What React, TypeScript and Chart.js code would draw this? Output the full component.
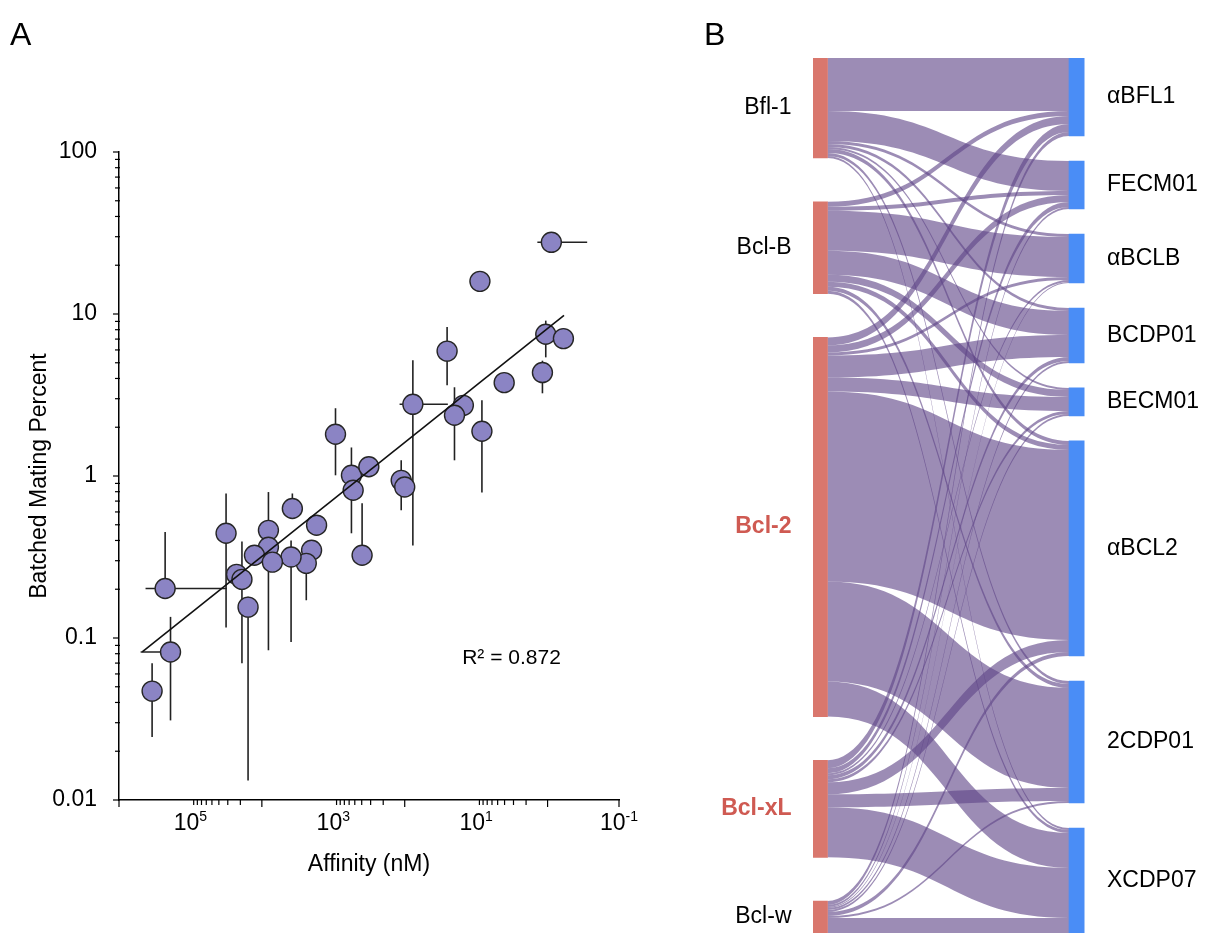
import React, { useEffect, useRef } from 'react';
import { Chart, registerables } from 'chart.js';

Chart.register(...registerables);

const FONT = '"Liberation Sans", Arial, Helvetica, sans-serif';

// ---------------- Panel A data ----------------
const affinityNM = [0.885, 8.85, 1.06, 0.6, 1.18, 4.05, 25.5, 76.9, 15.1, 20.1, 8.3, 931, 557, 527, 318, 395, 112, 100, 1714, 2014, 2388, 3741, 3899, 8090, 8090, 12700, 7120, 22600, 19000, 15600, 31700, 226000, 190000, 344000];
const matingPercent = [27.7, 15.9, 7.5, 7.05, 4.35, 3.77, 5.9, 2.77, 2.73, 2.37, 1.89, 1.81, 1.01, 0.817, 1.14, 0.324, 0.94, 0.855, 0.497, 0.348, 0.289, 0.63, 0.316, 0.462, 0.363, 0.324, 0.294, 0.247, 0.23, 0.155, 0.443, 0.202, 0.082, 0.047];
const matingLow = [null, null, 5.4, null, 3.24, null, 3.63, 0.373, null, 1.25, 0.79, 1.01, 0.443, null, null, 0.3, 0.614, null, null, null, 0.171, 0.55, 0.0944, 0.4, 0.084, null, null, null, 0.0698, 0.0132, 0.116, 0.18, 0.031, 0.0245];
const matingHigh = [null, null, 9.1, null, 5.15, null, 8.3, 5.18, null, 3.53, 2.93, 2.62, 1.5, null, null, 0.678, 1.25, null, null, null, 0.35, 0.78, 0.4, 0.796, 0.42, null, null, null, 0.394, 0.18, 0.78, 0.451, 0.135, 0.0698];
const affinityLow = [0.279, null, null, null, null, null, null, 24.9, null, null, null, null, null, null, null, null, null, null, null, null, null, null, null, null, null, null, null, null, null, null, null, 30900, 150000, null];
const affinityHigh = [1.39, null, null, null, null, null, null, 118, null, null, null, null, null, null, null, null, null, null, null, null, null, null, null, null, null, null, null, null, null, null, null, 425000, 498000, null];

const fitLineX = [473000, 0.589];
const fitLineY = [0.082, 9.8];
const rSquaredText = 'R² = 0.872';
const rSquaredAt = { x: 3.2, y: 0.075 };

const yTickValues = [0.01, 0.1, 1, 10, 100];
const yTickLabels = ['0.01', '0.1', '1', '10', '100'];
const yMinorDecades = [0.01, 0.1, 1, 10];
const xLabelValues = [1e5, 1e3, 1e1, 1e-1];
const xLabelExponents = ['5', '3', '1', '-1'];
const xMajorTickValues = [1e6, 1e4, 1e2, 1, 0.1];
const xMinorDecades = [1e4, 1e2, 1];
const minorMultipliers = [2, 3, 4, 5, 6, 7, 8, 9];

// ---------------- Panel B data ----------------
const sourceNames = ['Bfl-1', 'Bcl-B', 'Bcl-2', 'Bcl-xL', 'Bcl-w'];
const sourceHighlighted = [false, false, true, true, false];
const targetNames = ['αBFL1', 'FECM01', 'αBCLB', 'BCDP01', 'BECM01', 'αBCL2', '2CDP01', 'XCDP07'];
const flowsBfl1 = [53, 30, 3, 3, 2, 4, 3, 2];
const flowsBclB = [5, 4, 40, 24, 7, 5, 4, 3];
const flowsBcl2 = [8, 7, 3, 22, 14, 190, 100, 35];
const flowsBclXL = [8, 5, 2, 4, 3, 12, 13, 50];
const flowsBclW = [4, 2, 1, 2, 2, 4, 2, 15];

const SANKEY_SPAN = 874.7;

function buildSankey() {
  const flows = [flowsBfl1, flowsBclB, flowsBcl2, flowsBclXL, flowsBclW];
  const srcTot = flows.map((r) => r.reduce((a, b) => a + b, 0));
  const tgtTot = targetNames.map((_, j) => flows.reduce((s, r) => s + r[j], 0));
  const total = srcTot.reduce((a, b) => a + b, 0);
  const lg = (SANKEY_SPAN - total) / (sourceNames.length - 1);
  const rg = (SANKEY_SPAN - total) / (targetNames.length - 1);
  const srcY0: number[] = [];
  let acc = 0;
  srcTot.forEach((v) => { srcY0.push(acc); acc += v + lg; });
  const tgtY0: number[] = [];
  acc = 0;
  tgtTot.forEach((v) => { tgtY0.push(acc); acc += v + rg; });
  const sy = flows.map((r, i) => { let o = srcY0[i]; return r.map((v) => { const s = o; o += v; return s; }); });
  const ty = flows.map((r) => r.map(() => 0));
  for (let j = 0; j < targetNames.length; j++) {
    let o = tgtY0[j];
    for (let i = 0; i < flows.length; i++) { ty[i][j] = o; o += flows[i][j]; }
  }
  const links: { i: number; j: number; v: number; sy: number; ty: number }[] = [];
  flows.forEach((r, i) => r.forEach((v, j) => { if (v > 0) links.push({ i, j, v, sy: sy[i][j], ty: ty[i][j] }); }));
  return { srcTot, tgtTot, srcY0, tgtY0, links };
}

const panelAPlugin = {
  id: 'panelADecor',
  beforeDatasetsDraw(chart: any) {
    const { ctx } = chart;
    const x = chart.scales.x;
    const y = chart.scales.y;
    ctx.save();
    ctx.strokeStyle = '#222';
    ctx.lineWidth = 1.6;
    for (let i = 0; i < affinityNM.length; i++) {
      const px = x.getPixelForValue(affinityNM[i]);
      const py = y.getPixelForValue(matingPercent[i]);
      if (matingLow[i] != null && matingHigh[i] != null) {
        ctx.beginPath();
        ctx.moveTo(px, y.getPixelForValue(matingLow[i]));
        ctx.lineTo(px, y.getPixelForValue(matingHigh[i]));
        ctx.stroke();
      }
      if (affinityLow[i] != null && affinityHigh[i] != null) {
        ctx.beginPath();
        ctx.moveTo(x.getPixelForValue(affinityHigh[i]), py);
        ctx.lineTo(x.getPixelForValue(affinityLow[i]), py);
        ctx.stroke();
      }
    }
    ctx.restore();
  },
  afterDraw(chart: any) {
    const { ctx, chartArea } = chart;
    const x = chart.scales.x;
    const y = chart.scales.y;
    ctx.save();
    ctx.strokeStyle = '#000';
    ctx.lineWidth = 1.2;
    // y ticks
    const yl = chartArea.left;
    yTickValues.forEach((v) => {
      const p = y.getPixelForValue(v);
      ctx.beginPath(); ctx.moveTo(yl - 6, p); ctx.lineTo(yl, p); ctx.stroke();
    });
    yMinorDecades.forEach((d) => minorMultipliers.forEach((k) => {
      const p = y.getPixelForValue(k * d);
      ctx.beginPath(); ctx.moveTo(yl - 4, p); ctx.lineTo(yl + 1, p); ctx.stroke();
    }));
    // x ticks
    const xb = chartArea.bottom;
    xMajorTickValues.forEach((v) => {
      const p = x.getPixelForValue(v);
      ctx.beginPath(); ctx.moveTo(p, xb); ctx.lineTo(p, xb + 7); ctx.stroke();
    });
    xMinorDecades.forEach((d) => minorMultipliers.forEach((k) => {
      const p = x.getPixelForValue(k * d);
      ctx.beginPath(); ctx.moveTo(p, xb); ctx.lineTo(p, xb + 5); ctx.stroke();
    }));
    // x tick labels with superscripts
    ctx.fillStyle = '#000';
    ctx.textAlign = 'left';
    ctx.textBaseline = 'alphabetic';
    xLabelValues.forEach((v, i) => {
      const p = x.getPixelForValue(v);
      ctx.font = `23px ${FONT}`;
      const w10 = ctx.measureText('10').width;
      ctx.font = `14px ${FONT}`;
      const we = ctx.measureText(xLabelExponents[i]).width;
      const sx = p - (w10 + we) / 2;
      ctx.font = `23px ${FONT}`;
      ctx.fillText('10', sx, xb + 30);
      ctx.font = `14px ${FONT}`;
      ctx.fillText(xLabelExponents[i], sx + w10, xb + 21);
    });
    // R squared
    ctx.font = `21px ${FONT}`;
    ctx.textAlign = 'center';
    ctx.textBaseline = 'middle';
    ctx.fillText(rSquaredText, x.getPixelForValue(rSquaredAt.x), y.getPixelForValue(rSquaredAt.y));
    // panel letter
    ctx.font = `32px ${FONT}`;
    ctx.textAlign = 'left';
    ctx.textBaseline = 'alphabetic';
    ctx.fillText('A', 10, 45);
    ctx.restore();
  },
};

function makeSankeyPlugin(layout: ReturnType<typeof buildSankey>) {
  return {
    id: 'sankeyFlows',
    beforeDatasetsDraw(chart: any) {
      const { ctx } = chart;
      const yS = chart.scales.y;
      const sm = chart.getDatasetMeta(0).data;
      const tm = chart.getDatasetMeta(1).data;
      const xs = sm[0].x + sm[0].width / 2;
      const xt = tm[0].x - tm[0].width / 2;
      const xm = (xs + xt) / 2;
      ctx.save();
      ctx.fillStyle = 'rgba(95, 70, 135, 0.62)';
      layout.links.forEach((l) => {
        const ys0 = yS.getPixelForValue(l.sy);
        const ys1 = yS.getPixelForValue(l.sy + l.v);
        const yt0 = yS.getPixelForValue(l.ty);
        const yt1 = yS.getPixelForValue(l.ty + l.v);
        ctx.beginPath();
        ctx.moveTo(xs, ys0);
        ctx.bezierCurveTo(xm, ys0, xm, yt0, xt, yt0);
        ctx.lineTo(xt, yt1);
        ctx.bezierCurveTo(xm, yt1, xm, ys1, xs, ys1);
        ctx.closePath();
        ctx.fill();
      });
      ctx.restore();
    },
    afterDatasetsDraw(chart: any) {
      const { ctx } = chart;
      const yS = chart.scales.y;
      const sm = chart.getDatasetMeta(0).data;
      const tm = chart.getDatasetMeta(1).data;
      ctx.save();
      ctx.textBaseline = 'middle';
      ctx.textAlign = 'right';
      sourceNames.forEach((n, i) => {
        const yc = yS.getPixelForValue(layout.srcY0[i] + layout.srcTot[i] / 2);
        ctx.font = `${sourceHighlighted[i] ? 'bold ' : ''}23px ${FONT}`;
        ctx.fillStyle = sourceHighlighted[i] ? '#cf5a52' : '#000';
        ctx.fillText(n, sm[i].x - sm[i].width / 2 - 7, yc);
      });
      ctx.textAlign = 'left';
      ctx.fillStyle = '#000';
      ctx.font = `23px ${FONT}`;
      targetNames.forEach((n, j) => {
        const yc = yS.getPixelForValue(layout.tgtY0[j] + layout.tgtTot[j] / 2);
        ctx.fillText(n, tm[j].x + tm[j].width / 2 + 7, yc);
      });
      ctx.font = `32px ${FONT}`;
      ctx.textBaseline = 'alphabetic';
      ctx.fillText('B', 4, 45);
      ctx.restore();
    },
  };
}

export default function App() {
  const refA = useRef<HTMLCanvasElement>(null);
  const refB = useRef<HTMLCanvasElement>(null);

  useEffect(() => {
    const points = affinityNM.map((v, i) => ({ x: v, y: matingPercent[i] }));
    const fit = fitLineX.map((v, i) => ({ x: v, y: fitLineY[i] }));
    const chartA = new Chart(refA.current as HTMLCanvasElement, {
      type: 'scatter',
      data: {
        datasets: [
          { type: 'line', data: fit, borderColor: '#111', borderWidth: 1.6, pointRadius: 0, showLine: true, fill: false, order: 0 } as any,
          { type: 'scatter', data: points, pointRadius: 10, pointBackgroundColor: '#8b84c4', pointBorderColor: '#262626', pointBorderWidth: 1.4, order: 1 } as any,
        ],
      },
      options: {
        responsive: false,
        animation: false,
        events: [],
        layout: { padding: { left: 22, right: 81, top: 152, bottom: 52 } },
        scales: {
          x: {
            type: 'logarithmic', reverse: true, min: 0.1, max: 1e6,
            afterBuildTicks: (s: any) => { s.ticks = xLabelValues.map((v) => ({ value: v })); },
            afterFit: (s: any) => { s.height = 82; },
            grid: { display: false, drawTicks: false },
            border: { display: true, color: '#000', width: 1.5 },
            ticks: { display: false },
            title: { display: true, text: 'Affinity (nM)', font: { family: FONT, size: 23 }, color: '#000', padding: { top: 4, bottom: 4 } },
          },
          y: {
            type: 'logarithmic', min: 0.01, max: 100,
            afterBuildTicks: (s: any) => { s.ticks = yTickValues.map((v) => ({ value: v })); },
            afterFit: (s: any) => { s.width = 97; },
            grid: { display: false, drawTicks: false },
            border: { display: true, color: '#000', width: 1.5 },
            ticks: {
              autoSkip: false, padding: 22, color: '#000', font: { family: FONT, size: 23 },
              callback: (v: any) => { const k = yTickValues.indexOf(Number(v)); return k >= 0 ? yTickLabels[k] : ''; },
            },
            title: { display: true, text: 'Batched Mating Percent', font: { family: FONT, size: 23 }, color: '#000', padding: { top: 4, bottom: 4 } },
          },
        },
        plugins: { legend: { display: false }, tooltip: { enabled: false } },
      } as any,
      plugins: [panelAPlugin],
    });

    const layout = buildSankey();
    const chartB = new Chart(refB.current as HTMLCanvasElement, {
      type: 'bar',
      data: {
        datasets: [
          {
            data: layout.srcY0.map((y0, i) => ({ x: 0, y: [y0, y0 + layout.srcTot[i]] })),
            backgroundColor: '#d9776d', barThickness: 29, grouped: false, borderWidth: 0,
          } as any,
          {
            data: layout.tgtY0.map((y0, j) => ({ x: 1, y: [y0, y0 + layout.tgtTot[j]] })),
            backgroundColor: '#4a8df6', barThickness: 31, grouped: false, borderWidth: 0,
          } as any,
        ],
      },
      options: {
        responsive: false,
        animation: false,
        events: [],
        layout: { padding: { left: 113, right: 124.5, top: 58, bottom: 1 } },
        scales: {
          x: { type: 'linear', min: 0, max: 1, display: false, offset: false },
          y: { type: 'linear', reverse: true, min: 0, max: SANKEY_SPAN, display: false, beginAtZero: false },
        },
        plugins: { legend: { display: false }, tooltip: { enabled: false } },
      } as any,
      plugins: [makeSankeyPlugin(layout)],
    });

    return () => { chartA.destroy(); chartB.destroy(); };
  }, []);

  return (
    <div style={{ position: 'fixed', left: 0, top: 0, width: 1209, height: 934, background: '#fff', overflow: 'hidden' }}>
      <canvas ref={refA} width={700} height={934} style={{ position: 'absolute', left: 0, top: 0, display: 'block' }} />
      <canvas ref={refB} width={509} height={934} style={{ position: 'absolute', left: 700, top: 0, display: 'block' }} />
    </div>
  );
}
